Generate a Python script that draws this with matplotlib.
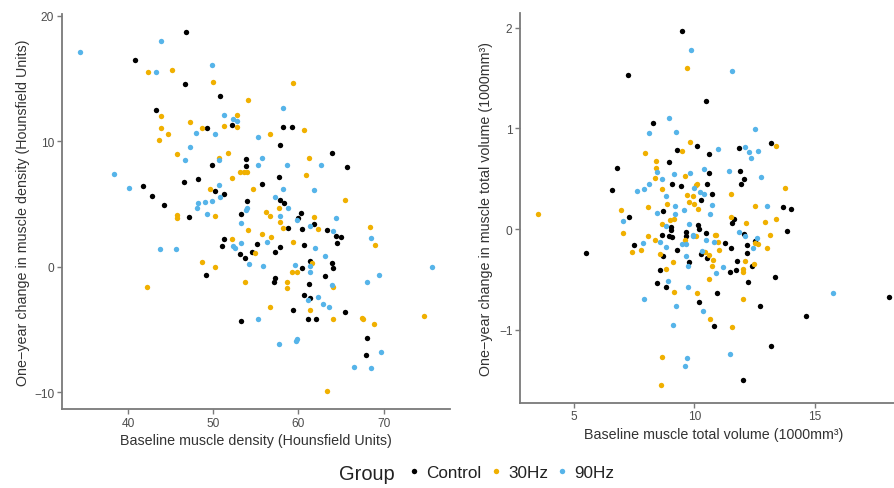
import matplotlib
matplotlib.use("Agg")
import matplotlib.pyplot as plt
from matplotlib.lines import Line2D

plt.rcParams['font.family'] = ['Liberation Sans', 'DejaVu Sans']

groups = ["Control", "30Hz", "90Hz"]
colors = ["#000000", "#F0B000", "#56B4E9"]

# ---- Left panel: baseline muscle density vs one-year change ----
ctrl_dens_x = [46.8,40.8,46.7,50.8,43.3,49.3,52.2,58.2,59.2,57.8,
               63.9,53.8,53.8,49.8,65.7,46.6,48.2,57.7,41.7,50.2,
               51.2,55.7,42.8,44.2,54.0,57.8,58.3,47.2,53.2,60.3,
               60.0,61.8,58.8,60.4,63.4,64.4,65.0,64.5,51.3,51.0,
               53.1,53.7,55.1,54.5,57.8,57.2,60.7,61.3,60.4,63.9,
               64.0,63.1,49.1,57.3,57.1,61.2,60.7,61.4,59.4,65.5,
               53.3,61.1,62.1,68.0,67.9]
ctrl_dens_y = [18.70,16.47,14.53,13.58,12.51,11.05,11.27,11.16,11.16,9.67,
               9.06,8.58,8.02,8.08,7.94,6.77,6.99,7.17,6.41,6.01,
               5.82,6.57,5.61,4.92,5.21,5.31,5.10,3.94,4.18,4.25,
               3.88,3.43,3.06,3.00,2.95,2.42,2.39,1.86,2.18,1.65,
               1.04,0.69,1.78,1.20,1.55,1.20,1.71,0.48,-0.08,0.32,
               -0.13,-0.76,-0.66,-0.92,-1.24,-1.38,-2.23,-2.47,-3.43,-3.59,
               -4.30,-4.17,-4.17,-5.66,-7.06]

hz30_dens_x = [42.3,45.2,50.0,54.1,59.4,43.8,52.8,47.3,43.8,48.7,
               51.2,52.8,44.7,43.6,56.7,60.7,45.7,50.7,51.7,61.2,
               53.1,53.6,53.9,52.2,60.9,54.6,49.6,65.5,57.7,45.7,
               45.7,50.2,56.2,56.7,61.8,57.8,58.2,62.3,68.4,69.0,
               54.1,55.7,56.8,59.4,52.2,54.9,61.6,59.2,59.8,48.7,
               50.2,42.2,53.7,58.7,58.7,64.0,56.7,61.4,64.1,67.5,
               67.6,68.9,74.7,63.4]
hz30_dens_y = [15.51,15.70,14.74,13.31,14.64,11.98,12.09,11.55,11.03,11.05,
               11.24,11.11,10.55,10.10,10.60,10.89,8.98,8.64,9.08,8.69,
               7.52,7.57,7.57,7.04,7.33,6.22,6.19,5.29,4.68,4.12,
               3.90,4.02,4.38,4.06,3.94,3.59,3.06,2.98,3.14,1.73,
               2.95,2.63,2.34,1.97,2.23,1.09,0.27,-0.45,-0.45,0.37,
               -0.02,-1.62,-1.24,-1.22,-1.72,-1.59,-3.24,-3.47,-4.17,-4.11,
               -4.19,-4.59,-3.95,-9.93]

hz90_dens_x = [34.3,43.8,43.3,49.8,58.2,51.3,52.3,52.8,48.0,50.2,
               55.3,47.3,46.7,55.7,50.7,55.2,58.7,62.6,38.3,40.1,
               50.7,50.8,58.2,61.8,57.3,49.8,49.0,48.2,48.1,58.8,
               53.9,49.2,53.8,53.2,57.8,59.8,64.4,61.3,64.0,68.5,
               56.3,61.9,53.3,52.3,52.6,43.7,45.6,54.2,55.8,59.6,
               61.3,61.3,63.1,75.7,69.4,68.1,63.9,61.1,62.3,62.9,
               63.6,55.3,57.7,59.7,59.8,69.7,66.5,68.5]
hz90_dens_y = [17.08,18.01,15.51,16.10,12.67,12.09,11.77,11.63,10.65,10.55,
               10.31,9.54,8.48,8.64,8.53,8.10,8.10,8.10,7.41,6.25,
               6.53,5.53,6.17,6.09,5.58,5.21,5.13,5.05,4.65,4.65,
               4.65,4.20,4.52,3.46,4.06,3.75,3.90,3.27,2.84,2.31,
               1.99,1.49,1.86,1.63,1.49,1.39,1.41,0.22,0.08,0.11,
               0.02,-0.45,0.83,-0.05,-0.66,-1.22,-1.46,-2.68,-2.44,-3.00,
               -3.21,-4.19,-6.16,-5.90,-5.78,-6.82,-8.02,-8.10]

# ---- Right panel: baseline muscle total volume vs one-year change ----
ctrl_vol_x = [9.48,7.24,10.49,8.29,10.11,9.29,10.62,8.96,6.78,10.61,
              9.09,9.45,10.54,6.57,10.29,7.30,8.71,9.02,10.14,10.20,
              13.18,11.84,11.88,12.06,11.94,10.75,13.68,14.02,11.66,11.58,
              13.86,10.47,12.06,5.51,7.50,8.65,9.02,9.06,8.71,9.64,
              9.64,9.27,9.78,10.28,10.53,11.27,11.52,10.93,10.82,10.18,
              8.56,8.46,8.83,12.01,12.71,13.36,13.18,12.22,12.41,11.48,
              11.72,11.78,12.20,12.17,12.53,14.62,18.09,8.95]
ctrl_vol_y = [1.973,1.532,1.271,1.052,0.823,0.789,0.749,0.670,0.604,0.557,
              0.451,0.428,0.448,0.388,0.292,0.122,0.176,0.017,0.043,0.0,
              0.856,0.806,0.580,0.500,0.451,0.345,0.222,0.196,0.097,0.063,
              -0.020,-0.037,-0.050,-0.236,-0.159,-0.057,-0.010,-0.083,-0.266,-0.033,
              -0.067,-0.206,-0.325,-0.252,-0.292,-0.142,-0.186,-0.634,-0.965,-0.723,
              -0.408,-0.537,-0.574,-1.502,-0.763,-0.481,-1.164,-0.527,-0.371,-0.425,
              -0.405,-0.315,-0.239,-0.156,-0.119,-0.863,-0.674,-0.073]

hz30_vol_x = [9.71,9.81,9.48,7.95,8.42,8.42,9.61,8.38,10.12,8.67,
              9.68,9.93,9.77,10.0,10.17,8.07,8.87,6.97,8.98,9.15,
              3.50,7.03,13.39,10.06,13.76,11.51,12.53,11.51,12.13,12.92,
              13.40,10.87,13.13,7.41,7.78,8.08,8.37,8.58,8.67,9.61,
              9.12,10.06,10.43,10.61,10.76,10.89,10.72,10.97,11.04,10.61,
              10.65,10.11,8.83,9.15,8.67,8.62,11.58,12.02,12.48,12.01,
              12.01,12.10,13.00,12.63,12.51]
hz30_vol_y = [1.599,0.863,0.779,0.756,0.677,0.607,0.527,0.510,0.451,0.395,
              0.338,0.331,0.272,0.249,0.199,0.222,0.252,0.186,0.093,0.102,
              0.146,-0.043,0.823,0.441,0.411,0.351,0.226,0.116,0.063,0.070,
              0.097,-0.057,-0.057,-0.229,-0.206,-0.067,-0.109,-0.246,0.053,-0.106,
              -0.331,-0.073,-0.232,-0.256,-0.305,-0.060,-0.365,-0.129,-0.206,-0.495,
              -0.896,-0.640,-0.395,-0.624,-1.277,-1.552,-0.972,-0.697,-0.348,-0.398,
              -0.431,-0.315,-0.186,-0.152,-0.142]

hz90_vol_x = [9.88,8.95,8.11,9.23,8.44,9.16,9.83,10.39,8.66,8.13,
              9.98,7.93,7.61,10.22,10.40,9.57,9.19,7.05,8.46,9.19,
              8.83,9.78,11.56,12.51,10.97,12.12,12.28,12.64,12.34,11.43,
              12.78,10.75,10.65,13.00,11.87,12.59,9.96,7.88,8.58,8.83,
              9.49,9.66,9.67,9.74,9.95,10.31,10.49,10.80,11.20,10.90,
              10.35,9.75,8.90,9.23,9.12,7.91,9.71,9.60,11.47,12.42,
              12.09,15.73,8.83]
hz90_vol_y = [1.784,1.104,0.958,0.968,0.567,0.544,0.560,0.597,0.495,0.445,
              0.408,0.395,0.381,0.365,0.348,0.186,0.232,0.080,0.156,0.149,
              0.033,0.047,1.572,0.998,0.796,0.813,0.769,0.776,0.706,0.580,
              0.514,0.242,0.149,0.232,-0.027,-0.090,-0.067,-0.139,-0.126,-0.182,
              -0.149,-0.149,-0.272,-0.371,-0.060,-0.222,-0.112,-0.126,-0.375,-0.441,
              -0.819,-0.574,-0.514,-0.769,-0.955,-0.697,-1.284,-1.360,-1.247,-0.189,
              -0.073,-0.637,0.331]

left_xticks = [40, 50, 60, 70]
left_yticks = [-10, 0, 10, 20]
right_xticks = [5, 10, 15]
right_yticks = [-1, 0, 1, 2]

AX_COL = "#7a7a7a"
TICK_LAB = "#4d4d4d"
TITLE_COL = "#333333"
PT_SIZE = 15

fig = plt.figure(figsize=(8.94, 4.89), dpi=100)
ax1 = fig.add_axes([0.0691, 0.1609, 0.4343, 0.8082])
ax2 = fig.add_axes([0.5817, 0.1744, 0.4329, 0.7970])


def style(ax):
    for s in ("top", "right"):
        ax.spines[s].set_visible(False)
    for s in ("left", "bottom"):
        ax.spines[s].set_color(AX_COL)
        ax.spines[s].set_linewidth(1.3)
    ax.tick_params(axis="both", direction="out", length=3.5, width=1.0,
                   color=AX_COL, labelcolor=TICK_LAB, labelsize=8.6, pad=2)


sets1 = [(ctrl_dens_x, ctrl_dens_y), (hz30_dens_x, hz30_dens_y), (hz90_dens_x, hz90_dens_y)]
sets2 = [(ctrl_vol_x, ctrl_vol_y), (hz30_vol_x, hz30_vol_y), (hz90_vol_x, hz90_vol_y)]

for (x, y), c in zip(sets1, colors):
    ax1.scatter(x, y, s=PT_SIZE, color=c, linewidths=0, zorder=3)
for (x, y), c in zip(sets2, colors):
    ax2.scatter(x, y, s=PT_SIZE, color=c, linewidths=0, zorder=3)

ax1.set_xlim(32.2, 77.8)
ax1.set_ylim(-11.36, 20.13)
ax1.set_xticks(left_xticks)
ax1.set_yticks(left_yticks)
ax1.set_xlabel("Baseline muscle density (Hounsfield Units)", fontsize=10.3,
               color=TITLE_COL, labelpad=3)
ax1.set_ylabel("One\u2212year change in muscle density (Hounsfield Units)", fontsize=10.3,
               color=TITLE_COL, labelpad=3)
style(ax1)

ax2.set_xlim(2.77, 18.82)
ax2.set_ylim(-1.728, 2.149)
ax2.set_xticks(right_xticks)
ax2.set_yticks(right_yticks)
ax2.set_xlabel("Baseline muscle total volume (1000mm\u00b3)", fontsize=10.3,
               color=TITLE_COL, labelpad=3)
ax2.set_ylabel("One\u2212year change in muscle total volume (1000mm\u00b3)", fontsize=10.3,
               color=TITLE_COL, labelpad=4)
style(ax2)

# Legend at bottom
handles = [Line2D([], [], linestyle="none", marker="o", markersize=3.9,
                  markerfacecolor=c, markeredgewidth=0) for c in colors]
fig.text(339.3 / 894, 0.030, "Group", fontsize=14.4, color="#222222",
         ha="left", va="center")
fig.legend(handles, groups, loc="center left", bbox_to_anchor=(408.9 / 894, 0.031),
           ncol=3, frameon=False, fontsize=12.3, handlelength=0.6,
           handletextpad=0.43, columnspacing=0.52, borderpad=0, borderaxespad=0,
           labelcolor="#222222")

fig.savefig("out.png", dpi=100)
